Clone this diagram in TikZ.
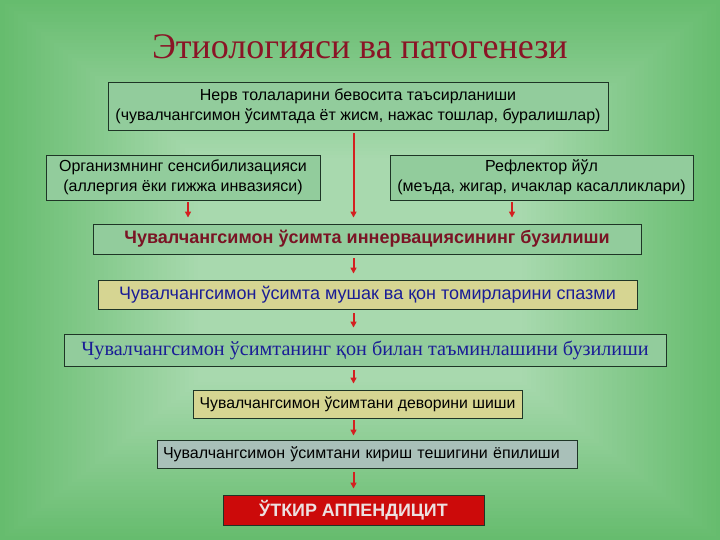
\documentclass[tikz,border=0pt]{standalone}
\usepackage{fontspec}
\setmainfont{Liberation Serif}
\setsansfont{Liberation Sans}
\usetikzlibrary{arrows.meta}
\definecolor{bgout}{HTML}{66BC6E}
\definecolor{bgin}{HTML}{A8D9AE}
\definecolor{boxg}{HTML}{92CC9C}
\definecolor{boxy}{HTML}{D6D592}
\definecolor{boxb}{HTML}{A9C0B9}
\definecolor{boxr}{HTML}{CC0A0A}
\definecolor{edge}{HTML}{1E3526}
\definecolor{titlec}{HTML}{8A1526}
\definecolor{darkred}{HTML}{7A1424}
\definecolor{bluet}{HTML}{1A1D96}
\definecolor{arrc}{HTML}{D42020}
\tikzset{
  box/.style={draw=edge, line width=0.9pt, fill=boxg, inner sep=0pt, font=\sffamily},
  arr/.style={draw=arrc, line width=2pt, -{Triangle[length=6pt,width=6pt]}},
}
\begin{document}
\begin{tikzpicture}[x=1pt,y=-1pt]
\useasboundingbox (0,0) rectangle (720,540);
% background
\foreach \i in {0,...,44}{
  \pgfmathsetmacro{\p}{\i*100/44}
  \fill[bgin!\p!bgout] (\i*4.5,\i*3.6) rectangle (720-\i*4.5,540-\i*3.6);
}
% title
\node (title) at (360,47) {\fontsize{36}{36}\selectfont\color{titlec}Этиологияси ва патогенези};
% boxes
\node[box, minimum width=500, minimum height=48, align=center, font=\sffamily\fontsize{16}{20}\selectfont] (b1) at (358,106)
  {Нерв толаларини бевосита таъсирланиши\\(чувалчангсимон ўсимтада ёт жисм, нажас тошлар, буралишлар)};
\node[box, minimum width=274, minimum height=45, align=center, font=\sffamily\fontsize{16}{20}\selectfont] (b2) at (183,177.5)
  {Организмнинг сенсибилизацияси\\(аллергия ёки гижжа инвазияси)};
\node[box, minimum width=303, minimum height=45, align=center, font=\sffamily\fontsize{16}{20}\selectfont] (b3) at (541.5,177.5)
  {Рефлектор йўл\\(меъда, жигар, ичаклар касалликлари)};
\node[box, minimum width=548, minimum height=30, font=\sffamily\bfseries\fontsize{18}{18}\selectfont, text=darkred] (b4) at (367,239)
  {Чувалчангсимон ўсимта иннервациясининг бузилиши};
\node[box, fill=boxy, minimum width=539, minimum height=29, font=\sffamily\fontsize{18}{18}\selectfont, text=bluet] (b5) at (367.5,294.5)
  {Чувалчангсимон ўсимта мушак ва қон томирларини спазми};
\node[box, minimum width=602, minimum height=32, font=\rmfamily\fontsize{20.2}{20}\selectfont, text=bluet] (b6) at (365,350)
  {Чувалчангсимон ўсимтанинг қон билан таъминлашини бузилиши};
\node[box, fill=boxy, minimum width=329, minimum height=28, font=\sffamily\fontsize{15.8}{16}\selectfont] (b7) at (357.5,404)
  {Чувалчангсимон ўсимтани деворини шиши};
\node[box, fill=boxb, minimum width=420, minimum height=28, text width=408, font=\sffamily\fontsize{16}{16}\selectfont] (b8) at (367,454)
  {Чувалчангсимон ўсимтани кириш тешигини ёпилиши};
\node[box, fill=boxr, minimum width=261, minimum height=30, font=\sffamily\bfseries\fontsize{17.9}{18}\selectfont, text={rgb,255:red,236;green,224;blue,224}] (b9) at (353.5,510)
  {ЎТКИР АППЕНДИЦИТ};
% arrows
\draw[arr] ([yshift=-3]b1.south -| b9) -- ([yshift=6]b4.north -| b9);
\draw[arr] ([xshift=5,yshift=-2]b2.south) -- ([xshift=5,yshift=6]b2.south |- b4.north);
\draw[arr] ([xshift=-29.5,yshift=-2]b3.south) -- ([xshift=-29.5,yshift=6]b3.south |- b4.north);
\draw[arr] ([yshift=-4]b4.south -| b9) -- ([yshift=6]b5.north -| b9);
\draw[arr] ([yshift=-4]b5.south -| b9) -- ([yshift=6]b6.north -| b9);
\draw[arr] ([yshift=-4]b6.south -| b9) -- ([yshift=6]b7.north -| b9);
\draw[arr] ([yshift=-2]b7.south -| b9) -- ([yshift=4]b8.north -| b9);
\draw[arr] ([yshift=-4]b8.south -| b9) -- ([yshift=6]b9.north -| b9);
\end{tikzpicture}
\end{document}
